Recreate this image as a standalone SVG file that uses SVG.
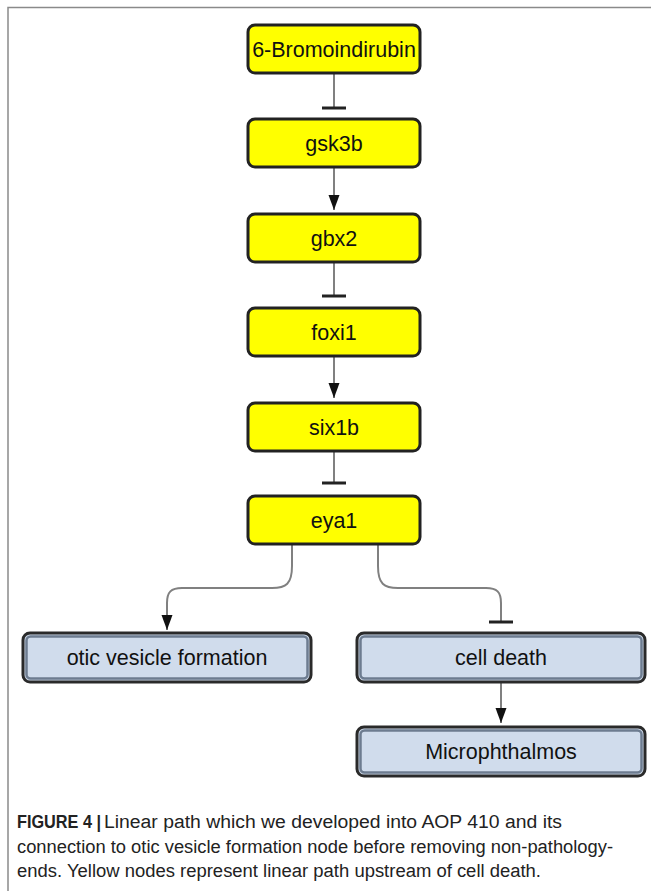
<svg xmlns="http://www.w3.org/2000/svg" width="651" height="891" viewBox="0 0 651 891">
<style>
.y{fill:#ffff00;stroke:#222;stroke-width:3}
.b{fill:#d0dcec;stroke:#2a2a2a;stroke-width:3}
.bi{fill:none;stroke:#6d7c90;stroke-width:2.5}
.lbl{font-family:"Liberation Sans",Arial,sans-serif;font-size:21.5px;fill:#111;text-anchor:middle}
.cap{font-family:"Liberation Sans",Arial,sans-serif;font-size:18px;fill:#222}
.e{fill:none;stroke:#808080;stroke-width:2}
.arr{marker-end:url(#arrow)}
.inh{marker-end:url(#bar)}
</style>
<defs>
<marker id="arrow" viewBox="0 0 15 12" refX="15" refY="6" markerWidth="15" markerHeight="12" markerUnits="userSpaceOnUse" orient="auto">
<path d="M0,0.5 L15,6 L0,11.5 z" fill="#111"/>
</marker>
<marker id="bar" viewBox="-2 -12 4 24" refX="0" refY="0" markerWidth="4" markerHeight="24" markerUnits="userSpaceOnUse" orient="auto">
<path d="M0,-12 V12" stroke="#222" stroke-width="3"/>
</marker>
</defs>
<rect width="651" height="891" fill="#fff"/>
<path d="M8,891 V7.5 H651" fill="none" stroke="#8a8a8a" stroke-width="1.5"/>

<g id="connectors">
<path class="e inh" d="M334,73 V108"/>
<path class="e arr" d="M334,167 V210"/>
<path class="e inh" d="M334,262 V296"/>
<path class="e arr" d="M334,356 V398"/>
<path class="e inh" d="M334,451 V483"/>
<path class="e arr" d="M292,544 V566 C292,584 286,588 272,588 H182 C171,588 167,592 167,603 V630"/>
<path class="e inh" d="M378,544 V566 C378,584 384,588 398,588 H486 C497,588 501,592 501,603 V622"/>
<path class="e arr" d="M501,682 V723"/>
</g>

<g id="n-bromoindirubin">
<rect class="y" x="248" y="25" width="172" height="48" rx="7"/>
<text class="lbl" x="334" y="57">6-Bromoindirubin</text>
</g>
<g id="n-gsk3b">
<rect class="y" x="248" y="119" width="172" height="48" rx="7"/>
<text class="lbl" x="334" y="151">gsk3b</text>
</g>
<g id="n-gbx2">
<rect class="y" x="248" y="214" width="172" height="48" rx="7"/>
<text class="lbl" x="334" y="246">gbx2</text>
</g>
<g id="n-foxi1">
<rect class="y" x="248" y="308" width="172" height="48" rx="7"/>
<text class="lbl" x="334" y="340">foxi1</text>
</g>
<g id="n-six1b">
<rect class="y" x="248" y="403" width="172" height="48" rx="7"/>
<text class="lbl" x="334" y="435">six1b</text>
</g>
<g id="n-eya1">
<rect class="y" x="248" y="496" width="172" height="48" rx="7"/>
<text class="lbl" x="334" y="528">eya1</text>
</g>
<g id="n-otic">
<rect class="b" x="23" y="633" width="288" height="49" rx="7"/>
<rect class="bi" x="26.5" y="636.5" width="281" height="42" rx="4"/>
<text class="lbl" x="167" y="665">otic vesicle formation</text>
</g>
<g id="n-celldeath">
<rect class="b" x="357" y="633" width="288" height="49" rx="7"/>
<rect class="bi" x="360.5" y="636.5" width="281" height="42" rx="4"/>
<text class="lbl" x="501" y="665">cell death</text>
</g>
<g id="n-microphthalmos">
<rect class="b" x="357" y="727" width="288" height="49" rx="7"/>
<rect class="bi" x="360.5" y="730.5" width="281" height="42" rx="4"/>
<text class="lbl" x="501" y="759">Microphthalmos</text>
</g>

<g id="caption">
<text class="cap" x="17" y="828" font-weight="bold" font-size="16.5" textLength="84" lengthAdjust="spacingAndGlyphs">FIGURE 4 |</text>
<text class="cap" x="104" y="828" textLength="458" lengthAdjust="spacingAndGlyphs">Linear path which we developed into AOP 410 and its</text>
<text class="cap" x="17" y="852.5" textLength="596" lengthAdjust="spacingAndGlyphs">connection to otic vesicle formation node before removing non-pathology-</text>
<text class="cap" x="17" y="877" textLength="524" lengthAdjust="spacingAndGlyphs">ends. Yellow nodes represent linear path upstream of cell death.</text>
</g>
</svg>
